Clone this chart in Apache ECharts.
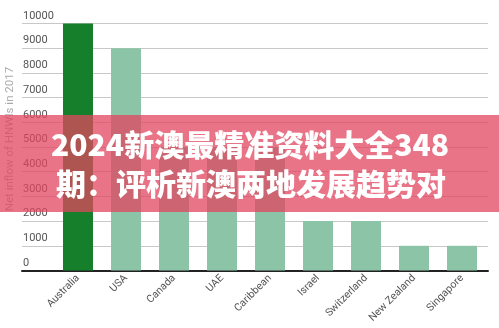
<!DOCTYPE html>
<html><head><meta charset="utf-8">
<script src="https://cdn.jsdelivr.net/npm/echarts@6/dist/echarts.min.js"></script>
<style>html,body{margin:0;padding:0;background:#fff}#c{width:499px;height:328px}</style>
</head><body><div id="c"></div>
<script>
const categories = ['Australia','USA','Canada','UAE','Caribbean','Israel','Switzerland','New Zealand','Singapore'];
const values = [10000, 9000, 5000, 5000, 5000, 2000, 2000, 1000, 1000];
const yTicks = [0,1000,2000,3000,4000,5000,6000,7000,8000,9000,10000];
const yTitle = 'Net inflow of HNWIs in 2017';
const bannerLines = ['2024新澳最精准资料大全348', '期：评析新澳两地发展趋势对'];

const chart = echarts.init(document.getElementById('c'), null, {renderer:'canvas'});
const gTop = 23.5, gBottom = 57.5;
chart.setOption({
  animation:false,
  grid:[
    {left:22, right:11, top:gTop, bottom:gBottom},
    {left:54, right:13, top:gTop, bottom:gBottom}
  ],
  xAxis:[
    {gridIndex:0, type:'value', min:0, max:1, axisLine:{show:true, onZero:false, lineStyle:{color:'#222', width:2}},
     axisTick:{show:false}, axisLabel:{show:false}, splitLine:{show:false}},
    {gridIndex:1, type:'category', data:categories, axisLine:{show:false}, axisTick:{show:false},
     axisLabel:{rotate:45, fontSize:10.5, color:'#555', margin:6, interval:0, fontFamily:'Roboto'}}
  ],
  yAxis:[
    {gridIndex:0, type:'value', min:yTicks[0], max:yTicks[yTicks.length-1], interval:1000,
     axisLine:{show:false}, axisTick:{show:false},
     axisLabel:{inside:true, margin:1, verticalAlign:'bottom', padding:[0,0,2,0], fontSize:11, color:'#555', fontFamily:'Roboto',
                formatter: v => String(v)},
     splitLine:{lineStyle:{color:'#c8c8c8', width:1}}},
    {gridIndex:1, type:'value', min:yTicks[0], max:yTicks[yTicks.length-1], interval:1000, show:false}
  ],
  series:[{
    type:'bar', xAxisIndex:1, yAxisIndex:1, barWidth:30,
    data: values.map((v,i)=>({value:v, itemStyle:{color: i===0 ? '#167f2b' : '#8cc4a7'}}))
  }],
  graphic:[
    {type:'text', x:10, y:139, rotation:Math.PI/2,
     style:{text:yTitle, fill:'#aaa', fontSize:11.5, fontFamily:'Roboto', align:'center', verticalAlign:'middle'}},
    {type:'rect', shape:{x:0, y:115, width:499, height:97}, style:{fill:'rgba(225,70,95,0.75)'}, z:100},
    {type:'text', x:250, y:145, z:101,
     style:{text:bannerLines[0], fill:'#fff', font:'900 30px "Noto Sans CJK SC"', align:'center', verticalAlign:'middle',
            shadowColor:'rgba(0,0,0,0.35)', shadowBlur:3}},
    {type:'text', x:251, y:184, z:101,
     style:{text:bannerLines[1], fill:'#fff', font:'900 30px "Noto Sans CJK SC"', align:'center', verticalAlign:'middle',
            shadowColor:'rgba(0,0,0,0.35)', shadowBlur:3}}
  ]
});
</script></body></html>
